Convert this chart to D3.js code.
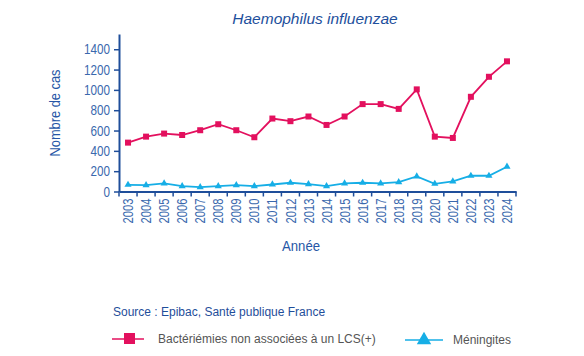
<!DOCTYPE html>
<html><head><meta charset="utf-8">
<script src="https://cdn.jsdelivr.net/npm/d3@7"></script>
<style>
body{margin:0;background:#fff;}
svg{display:block;}
</style></head>
<body><svg id="c" width="584" height="356"></svg>
<script>
const years = ["2003","2004","2005","2006","2007","2008","2009","2010","2011","2012","2013","2014","2015","2016","2017","2018","2019","2020","2021","2022","2023","2024"];
const bacteriemies = [481,540,570,556,603,662,603,534,718,692,738,655,738,860,860,813,1005,540,527,932,1129,1281];
const meningites = [66,63,79,53,43,53,63,53,69,86,73,53,79,86,79,92,148,76,99,155,155,244];
const yTicks = [0,200,400,600,800,1000,1200,1400];

const svg = d3.select("#c");
const axisColor = "#1f4e9a";
const labelColor = "#3a68ad";
const red = "#e3105e";
const blue = "#16aee6";
const sans = "'Liberation Sans',Arial,sans-serif";

const x = d3.scaleBand().domain(years).range([119, 516]);
const y = d3.scaleLinear().domain([0, 1550]).range([191.5, 34]);

// Y axis
const gy = svg.append("g").attr("transform","translate(119,0)")
  .call(d3.axisLeft(y).tickValues(yTicks).tickFormat(d3.format("d")).tickSize(5).tickSizeOuter(0).tickPadding(4));
gy.select(".domain").attr("stroke", axisColor).attr("stroke-width", 2);
gy.selectAll(".tick line").attr("stroke", axisColor).attr("stroke-width", 1.5);
gy.selectAll("text").attr("fill", labelColor).style("font-family", sans).style("font-size","14.5px")
  .each(function(){ const t=d3.select(this); t.attr("textLength", 6.5*t.text().length).attr("lengthAdjust","spacingAndGlyphs"); });

// X axis
const gx = svg.append("g").attr("transform","translate(0,191.5)")
  .call(d3.axisBottom(x).tickSize(0).tickPadding(0));
gx.select(".domain").attr("stroke", axisColor).attr("stroke-width", 2);
gx.selectAll(".tick line").remove();
const bounds = years.map(d => x(d)).concat([x.range()[1]]);
gx.selectAll("line.bt").data(bounds).enter().append("line").attr("class","bt")
  .attr("x1", d=>d).attr("x2", d=>d).attr("y1",0).attr("y2",5)
  .attr("stroke", axisColor).attr("stroke-width",1.5);
gx.selectAll(".tick text")
  .attr("transform","rotate(-90)")
  .attr("x",-7).attr("y",0).attr("dy","0.35em")
  .attr("text-anchor","end")
  .attr("fill", labelColor).style("font-family", sans).style("font-size","14.5px")
  .attr("textLength", 25).attr("lengthAdjust","spacingAndGlyphs");

// Lines
const cx = d => x(d) + x.bandwidth()/2;
const line = d3.line().x((d,i)=>cx(years[i])).y(d=>y(d));
svg.append("path").datum(meningites).attr("d", line).attr("fill","none").attr("stroke",blue).attr("stroke-width",1.8);
svg.append("path").datum(bacteriemies).attr("d", line).attr("fill","none").attr("stroke",red).attr("stroke-width",1.8);

const tri = d3.symbol().type(d3.symbolTriangle).size(22);
svg.selectAll("path.tm").data(meningites).enter().append("path").attr("class","tm")
  .attr("d", tri).attr("transform",(d,i)=>`translate(${cx(years[i])},${y(d)})`).attr("fill",blue);
svg.selectAll("rect.sm").data(bacteriemies).enter().append("rect").attr("class","sm")
  .attr("x",(d,i)=>cx(years[i])-3).attr("y",d=>y(d)-3).attr("width",6).attr("height",6).attr("fill",red);

// Titles
svg.append("text").attr("x",315).attr("y",24).attr("text-anchor","middle")
  .attr("fill","#1d4f9c").style("font-family",sans).style("font-style","italic").style("font-size","15.5px")
  .text("Haemophilus influenzae");
svg.append("text").attr("transform","translate(60,113) rotate(-90)").attr("text-anchor","middle")
  .attr("fill","#2656a6").style("font-family",sans).style("font-size","14.5px")
  .attr("textLength",87).attr("lengthAdjust","spacingAndGlyphs").text("Nombre de cas");
svg.append("text").attr("x",301).attr("y",251).attr("text-anchor","middle")
  .attr("fill","#2656a6").style("font-family",sans).style("font-size","14.5px")
  .attr("textLength",38).attr("lengthAdjust","spacingAndGlyphs").text("Année");

svg.append("text").attr("x",113).attr("y",316)
  .attr("fill","#1f4e9a").style("font-family",sans).style("font-size","12px").text("Source : Epibac, Santé publique France");

// Legend
svg.append("line").attr("x1",112).attr("x2",144).attr("y1",339).attr("y2",339).attr("stroke",red).attr("stroke-width",1.5);
svg.append("rect").attr("x",124).attr("y",333).attr("width",11).attr("height",11).attr("fill",red);
svg.append("text").attr("x",158).attr("y",343).attr("fill","#555").style("font-family",sans).style("font-size","12px")
  .text("Bactériémies non associées à un LCS(+)");
svg.append("line").attr("x1",405).attr("x2",443).attr("y1",340).attr("y2",340).attr("stroke",blue).attr("stroke-width",1.5);
svg.append("path").attr("d", d3.symbol().type(d3.symbolTriangle).size(90)).attr("transform","translate(424,340)").attr("fill",blue);
svg.append("text").attr("x",453).attr("y",344).attr("fill","#555").style("font-family",sans).style("font-size","12px")
  .text("Méningites");
</script></body></html>
